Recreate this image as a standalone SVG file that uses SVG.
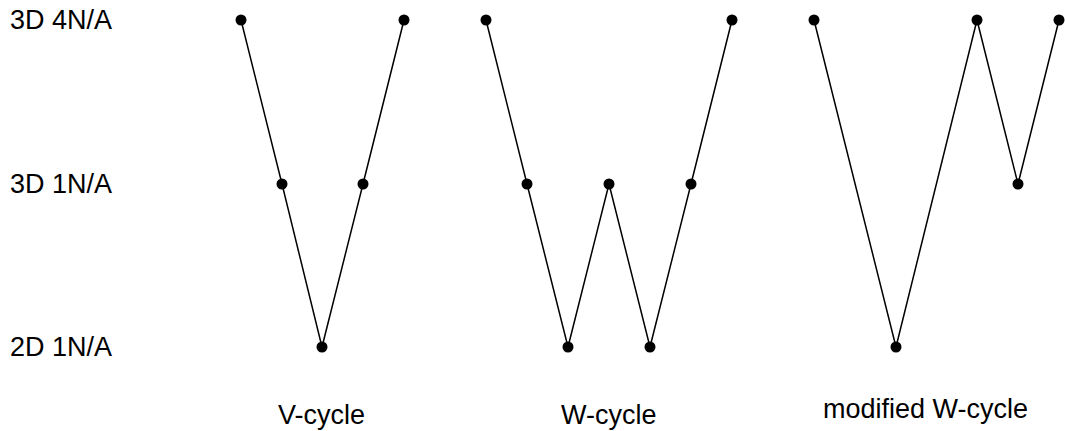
<svg xmlns="http://www.w3.org/2000/svg" width="1065" height="431" viewBox="0 0 1065 431">
  <style>
    .lbl { font-family: "Liberation Sans", Arial, sans-serif; font-size: 27px; fill: #000; }
    .edge { fill: none; stroke: #000; stroke-width: 1.5; stroke-linejoin: round; }
    .dot { fill: #000; }
  </style>
  <rect width="1065" height="431" fill="#fff"/>

  <!-- level labels -->
  <g id="levels">
    <text class="lbl" x="10" y="29">3D 4N/A</text>
    <text class="lbl" x="10" y="193">3D 1N/A</text>
    <text class="lbl" x="10" y="356">2D 1N/A</text>
  </g>

  <!-- connectors -->
  <g id="connectors">
    <polyline class="edge" points="241,20 282,184 322,347 363,184 404,20"/>
    <polyline class="edge" points="486,20 527,184 568,347 609,184 650,347 691,184 732,20"/>
    <polyline class="edge" points="814,20 896,347 977,20 1018,184 1059,20"/>
  </g>

  <!-- V-cycle nodes -->
  <g id="v-cycle">
    <circle id="v1" class="dot" cx="241" cy="20" r="5.5"/>
    <circle id="v2" class="dot" cx="282" cy="184" r="5.5"/>
    <circle id="v3" class="dot" cx="322" cy="347" r="5.5"/>
    <circle id="v4" class="dot" cx="363" cy="184" r="5.5"/>
    <circle id="v5" class="dot" cx="404" cy="20" r="5.5"/>
    <text class="lbl" x="278" y="424">V-cycle</text>
  </g>

  <!-- W-cycle nodes -->
  <g id="w-cycle">
    <circle id="w1" class="dot" cx="486" cy="20" r="5.5"/>
    <circle id="w2" class="dot" cx="527" cy="184" r="5.5"/>
    <circle id="w3" class="dot" cx="568" cy="347" r="5.5"/>
    <circle id="w4" class="dot" cx="609" cy="184" r="5.5"/>
    <circle id="w5" class="dot" cx="650" cy="347" r="5.5"/>
    <circle id="w6" class="dot" cx="691" cy="184" r="5.5"/>
    <circle id="w7" class="dot" cx="732" cy="20" r="5.5"/>
    <text class="lbl" x="561" y="424">W-cycle</text>
  </g>

  <!-- modified W-cycle nodes -->
  <g id="modified-w-cycle">
    <circle id="m1" class="dot" cx="814" cy="20" r="5.5"/>
    <circle id="m2" class="dot" cx="896" cy="347" r="5.5"/>
    <circle id="m3" class="dot" cx="977" cy="20" r="5.5"/>
    <circle id="m4" class="dot" cx="1018" cy="184" r="5.5"/>
    <circle id="m5" class="dot" cx="1059" cy="20" r="5.5"/>
    <text class="lbl" x="823" y="418">modified W-cycle</text>
  </g>
</svg>
